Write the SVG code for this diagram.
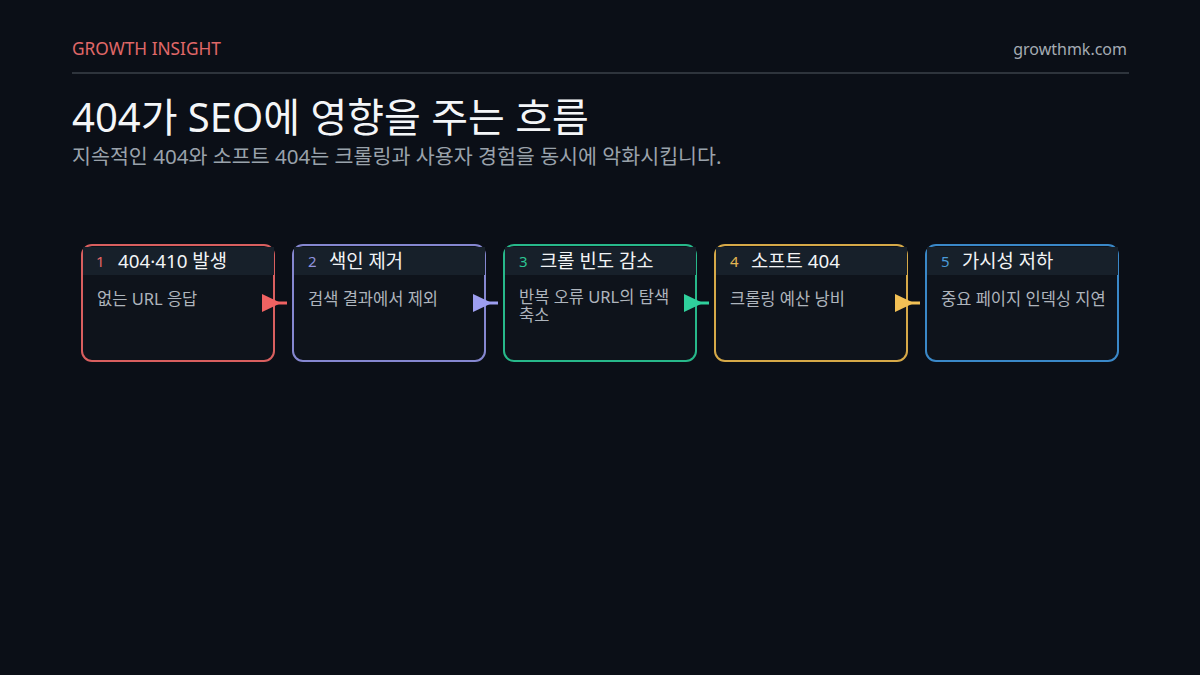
<svg xmlns="http://www.w3.org/2000/svg" width="1200" height="675" viewBox="0 0 1200 675">
<style>
text{font-family:"Noto Sans","Noto Sans CJK KR",sans-serif}
.card{fill:#0e131b;stroke-width:2}
.hdr{fill:#17202a}
.num{font-size:15px}
.ttl{font-size:18.8px;fill:#f2f4f6}
.body{font-size:16.5px;fill:#aeb5bd}
.conn line{stroke-width:3}
</style>
<rect width="1200" height="675" fill="#0b0f17"/>
<text x="72" y="55" font-size="17.3" fill="#e06868">GROWTH INSIGHT</text>
<text x="1127" y="55" font-size="16" fill="#a4abb3" text-anchor="end">growthmk.com</text>
<line x1="72" y1="73" x2="1129" y2="73" stroke="#2e343c" stroke-width="2"/>
<text x="72" y="132" font-size="40" fill="#f4f6f8">404가 SEO에 영향을 주는 흐름</text>
<text x="72" y="164" font-size="20.6" fill="#9aa2ab">지속적인 404와 소프트 404는 크롤링과 사용자 경험을 동시에 악화시킵니다.</text>

<g id="node1">
<rect class="card" x="82" y="245" width="192" height="116" rx="10" stroke="#d95f5f"/>
<rect class="hdr" x="83" y="247" width="191" height="28"/>
<text class="num" x="96" y="267" fill="#e06666">1</text>
<text class="ttl" x="118" y="268">404·410 발생</text>
<text class="body" x="97" y="305">없는 URL 응답</text>
</g>
<g id="node2">
<rect class="card" x="293" y="245" width="192" height="116" rx="10" stroke="#8587d0"/>
<rect class="hdr" x="294" y="247" width="191" height="28"/>
<text class="num" x="308" y="267" fill="#9193de">2</text>
<text class="ttl" x="329" y="268">색인 제거</text>
<text class="body" x="308" y="305">검색 결과에서 제외</text>
</g>
<g id="node3">
<rect class="card" x="504" y="245" width="192" height="116" rx="10" stroke="#27b88a"/>
<rect class="hdr" x="505" y="247" width="191" height="28"/>
<text class="num" x="519" y="267" fill="#2cc493">3</text>
<text class="ttl" x="540" y="268">크롤 빈도 감소</text>
<text class="body" x="519" y="303">반복 오류 URL의 탐색</text>
<text class="body" x="519" y="321">축소</text>
</g>
<g id="node4">
<rect class="card" x="715" y="245" width="192" height="116" rx="10" stroke="#d6a948"/>
<rect class="hdr" x="716" y="247" width="191" height="28"/>
<text class="num" x="730" y="267" fill="#e2b552">4</text>
<text class="ttl" x="751" y="268">소프트 404</text>
<text class="body" x="730" y="305">크롤링 예산 낭비</text>
</g>
<g id="node5">
<rect class="card" x="926" y="245" width="192" height="116" rx="10" stroke="#3a88c8"/>
<rect class="hdr" x="927" y="247" width="191" height="28"/>
<text class="num" x="941" y="267" fill="#4a9ad8">5</text>
<text class="ttl" x="962" y="268">가시성 저하</text>
<text class="body" x="941" y="305">중요 페이지 인덱싱 지연</text>
</g>

<g id="connectors" class="conn">
<line x1="266" y1="303" x2="287" y2="303" stroke="#f06262"/>
<polygon points="262,294 281,303 262,312" fill="#f06262"/>
<line x1="477" y1="303" x2="498" y2="303" stroke="#9d9ef0"/>
<polygon points="473,294 492,303 473,312" fill="#9d9ef0"/>
<line x1="688" y1="303" x2="709" y2="303" stroke="#2fd09c"/>
<polygon points="684,294 703,303 684,312" fill="#2fd09c"/>
<line x1="899" y1="303" x2="920" y2="303" stroke="#f2c055"/>
<polygon points="895,294 914,303 895,312" fill="#f2c055"/>
</g>
</svg>
